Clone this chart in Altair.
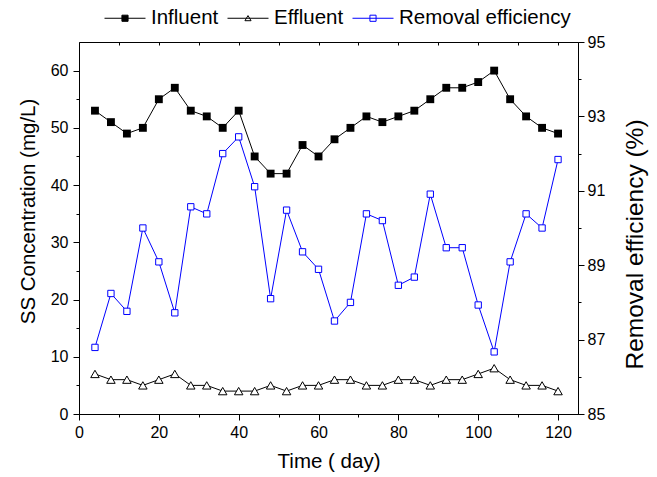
import altair as alt
import pandas as pd

# ---- data ----
days = [4, 8, 12, 16, 20, 24, 28, 32, 36, 40, 44, 48, 52, 56, 60,
        64, 68, 72, 76, 80, 84, 88, 92, 96, 100, 104, 108, 112, 116, 120]
influent = [53, 51, 49, 50, 55, 57, 53, 52, 50, 53, 45, 42, 42, 47, 45,
            48, 50, 52, 51, 52, 53, 55, 57, 57, 58, 60, 55, 52, 50, 49]
effluent = [7, 6, 6, 5, 6, 7, 5, 5, 4, 4, 4, 5, 4, 5, 5,
            6, 6, 5, 5, 6, 6, 5, 6, 6, 7, 8, 6, 5, 5, 4]
removal = [86.79, 88.24, 87.76, 90.00, 89.09, 87.72, 90.57, 90.38, 92.00, 92.45,
           91.11, 88.10, 90.48, 89.36, 88.89, 87.50, 88.00, 90.38, 90.20, 88.46,
           88.68, 90.91, 89.47, 89.47, 87.93, 86.67, 89.09, 90.38, 90.00, 91.84]
series_names = ["Influent", "Effluent", "Removal efficiency"]
x_major = [0, 20, 40, 60, 80, 100, 120]
x_minor = [10, 30, 50, 70, 90, 110]
x_top = [10, 20, 30, 40, 50, 60, 70, 80, 90, 100, 110, 120]
yl_major = [0, 10, 20, 30, 40, 50, 60]
yl_minor = [5, 15, 25, 35, 45, 55]
yr_major = [85, 87, 89, 91, 93, 95]
yr_minor = [86, 88, 90, 92, 94]

rows = []
for d, a, b, c in zip(days, influent, effluent, removal):
    rows.append({"day": d, "series": "Influent", "value": a})
    rows.append({"day": d, "series": "Effluent", "value": b})
    rows.append({"day": d, "series": "Removal efficiency", "value": c})
df = pd.DataFrame(rows)

FONT = "Liberation Sans"
BLUE = "#0000ff"

xscale = alt.Scale(domain=[0, 125], nice=False, zero=False)
ylscale = alt.Scale(domain=[0, 65], nice=False, zero=False)
yrscale = alt.Scale(domain=[85, 95], nice=False, zero=False)

ax_bottom = alt.Axis(orient="bottom", values=x_major, tickSize=6, labelPadding=4,
                     labelFlush=False, labelOverlap=False, labelFontSize=16,
                     title="Time ( day)", titleFontSize=20.5, titleY=53,
                     titleBaseline="alphabetic")
ax_bottom_minor = alt.Axis(orient="bottom", values=x_minor, tickSize=3, labels=False,
                           domain=False, title=None)
ax_top = alt.Axis(orient="top", values=x_top, tickSize=3, labels=False, domain=False,
                  offset=-3, title=None)
ax_left = alt.Axis(orient="left", values=yl_major, tickSize=6, labelPadding=5,
                   labelFontSize=16, labelFlush=False,
                   title="SS Concentration (mg/L)", titleFontSize=20.5,
                   titleAngle=270, titleX=-45, titleY=169, titleAlign="center",
                   titleBaseline="alphabetic")
ax_left_minor = alt.Axis(orient="left", values=yl_minor, tickSize=3, labels=False,
                         domain=False, title=None)
ax_right = alt.Axis(orient="right", values=yr_major, tickSize=6, labelPadding=3,
                    labelFontSize=16, labelFlush=False,
                    title="Removal efficiency (%)", titleFontSize=24.5,
                    titleAngle=270, titleX=64, titleY=202, titleAlign="center",
                    titleBaseline="alphabetic")
ax_right_minor = alt.Axis(orient="right", values=yr_minor, tickSize=3, labels=False,
                          domain=False, title=None)

base = alt.Chart(df)

left_lines = base.transform_filter(
    "datum.series != 'Removal efficiency'"
).mark_line(color="black", strokeWidth=1).encode(
    x=alt.X("day:Q", scale=xscale, axis=ax_bottom),
    y=alt.Y("value:Q", scale=ylscale, axis=ax_left),
    detail="series:N",
)

inf_points = base.transform_filter("datum.series == 'Influent'").mark_point(
    shape="square", filled=True, color="black", size=62, opacity=1
).encode(
    x=alt.X("day:Q", scale=xscale, axis=ax_bottom_minor),
    y=alt.Y("value:Q", scale=ylscale, axis=ax_left_minor),
)

eff_points = base.transform_filter("datum.series == 'Effluent'").mark_point(
    shape="triangle-up", filled=True, fill="white", stroke="black", strokeWidth=1,
    size=72, opacity=1
).encode(
    x=alt.X("day:Q", scale=xscale, axis=ax_top),
    y=alt.Y("value:Q", scale=ylscale, axis=None),
)

rem_line = base.transform_filter("datum.series == 'Removal efficiency'").mark_line(
    color=BLUE, strokeWidth=1
).encode(
    x=alt.X("day:Q", scale=xscale, axis=None),
    y=alt.Y("value:Q", scale=yrscale, axis=ax_right),
)

rem_points = base.transform_filter("datum.series == 'Removal efficiency'").mark_point(
    shape="square", filled=True, fill="white", stroke=BLUE, strokeWidth=1,
    size=40, opacity=1
).encode(
    x=alt.X("day:Q", scale=xscale, axis=None),
    y=alt.Y("value:Q", scale=yrscale, axis=ax_right_minor),
)

# legend-only layer (no marks drawn, the legend comes from the scales)
legend_shapes = [
    "M-1,0H1M-0.15,-0.15H0.15V0.15H-0.15Z",
    "M-1,0H1M0,-0.13L0.15,0.12L-0.15,0.12Z",
    "M-1,0H1M-0.15,-0.15H0.15V0.15H-0.15Z",
]
leg = alt.Legend(orient="none", legendX=25, legendY=-45, direction="horizontal",
                 title=None, symbolSize=1681, symbolStrokeWidth=1,
                 labelFontSize=20.5, labelFont=FONT, labelColor="black",
                 labelOffset=5, columnPadding=6, padding=0, labelLimit=400)
legend_layer = base.transform_filter("false").mark_point(
    filled=True, opacity=1, strokeWidth=1
).encode(
    shape=alt.Shape("series:N", scale=alt.Scale(domain=series_names, range=legend_shapes), legend=leg),
    stroke=alt.Stroke("series:N", scale=alt.Scale(domain=series_names, range=["black", "black", BLUE]), legend=leg),
    fill=alt.Fill("series:N", scale=alt.Scale(domain=series_names, range=["black", "white", "white"]), legend=leg),
)

chart = alt.layer(
    left_lines, inf_points, eff_points, rem_line, rem_points, legend_layer
).resolve_scale(
    y="independent"
).resolve_axis(
    x="independent", y="independent"
).properties(
    width=499, height=372,
    padding={"left": 79, "top": 42, "right": 79, "bottom": 63},
    autosize=alt.AutoSizeParams(type="none"),
    background="white",
).configure_view(
    stroke="black", strokeWidth=1
).configure_axis(
    grid=False, domainColor="black", tickColor="black", labelColor="black",
    titleColor="black", labelFont=FONT, titleFont=FONT, titleFontWeight="normal",
    domainWidth=1, tickWidth=1
)

chart.save("out.html", embed_options={"renderer": "svg", "actions": False})
